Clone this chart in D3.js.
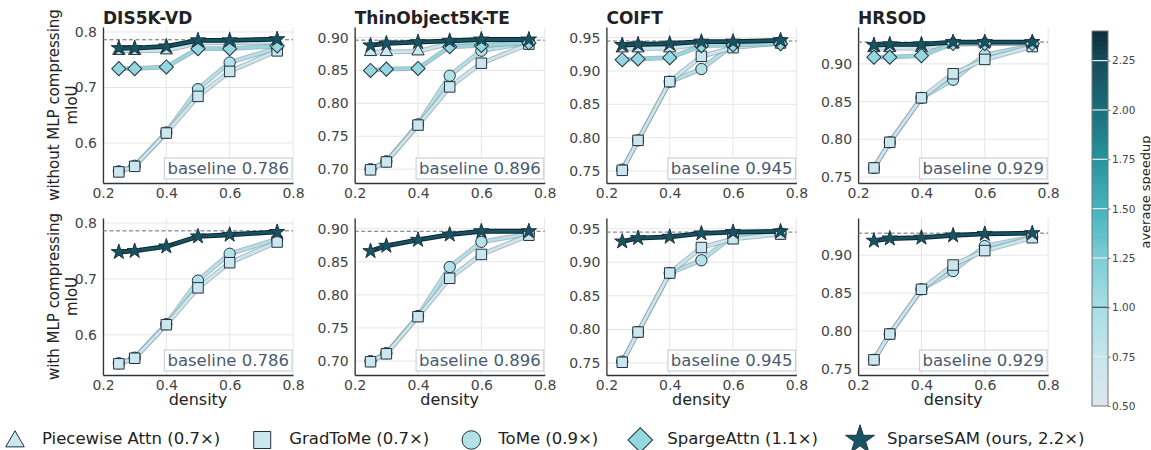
<!DOCTYPE html>
<html><head><meta charset="utf-8">
<script src="https://cdn.jsdelivr.net/npm/d3@7"></script>
<style>body{margin:0;background:#fff} svg{display:block} text{font-family:"DejaVu Sans",sans-serif}</style>
</head><body><svg id="c" width="1151" height="450"></svg>
<script>
// ---------------- data ----------------
const densities = [0.25, 0.3, 0.4, 0.5, 0.6, 0.75];
const datasets = ["DIS5K-VD", "ThinObject5K-TE", "COIFT", "HRSOD"];
const baselines = [0.786, 0.896, 0.945, 0.929];
const rowLabels = ["without MLP compressing", "with MLP compressing"];
const legendLabels = ["Piecewise Attn (0.7×)", "GradToMe (0.7×)", "ToMe (0.9×)", "SpargeAttn (1.1×)", "SparseSAM (ours, 2.2×)"];
const speedups = [0.7, 0.7, 0.9, 1.1, 2.2];
const yDomains = [[0.528, 0.809], [0.679, 0.916], [0.732, 0.966], [0.742, 0.949]];
const yTicks = [[0.6, 0.7, 0.8], [0.70, 0.75, 0.80, 0.85, 0.90], [0.75, 0.80, 0.85, 0.90, 0.95], [0.75, 0.80, 0.85, 0.90]];
const xTicks = [0.2, 0.4, 0.6, 0.8];
const cbTicks = [0.5, 0.75, 1.0, 1.25, 1.5, 1.75, 2.0, 2.25];
const cbRange = [0.5, 2.4];

// per dataset (DIS5K-VD, ThinObject5K-TE, COIFT, HRSOD)
const piecewise = [
  [0.766, 0.766, 0.767, 0.780, 0.781, 0.782],
  [0.878, 0.878, 0.879, 0.891, 0.892, 0.894],
  [0.934, 0.934, 0.934, 0.941, 0.942, 0.944],
  [0.921, 0.921, 0.921, 0.926, 0.927, 0.928]];
const gradtome = [
  [0.548, 0.558, 0.618, 0.684, 0.729, 0.766],
  [0.699, 0.711, 0.767, 0.825, 0.861, 0.890],
  [0.751, 0.796, 0.884, 0.922, 0.935, 0.942],
  [0.762, 0.796, 0.855, 0.887, 0.906, 0.923]];
const tome = [
  [0.549, 0.559, 0.619, 0.697, 0.745, 0.771],
  [0.700, 0.712, 0.768, 0.842, 0.880, 0.892],
  [0.752, 0.796, 0.884, 0.903, 0.939, 0.943],
  [0.762, 0.796, 0.855, 0.879, 0.912, 0.924]];
const sparge = [
  [0.734, 0.734, 0.737, 0.770, 0.770, 0.775],
  [0.850, 0.852, 0.853, 0.886, 0.888, 0.892],
  [0.917, 0.918, 0.920, 0.938, 0.939, 0.941],
  [0.909, 0.909, 0.911, 0.927, 0.927, 0.927]];
const sparseNoMLP = [
  [0.771, 0.771, 0.774, 0.785, 0.785, 0.787],
  [0.888, 0.891, 0.893, 0.895, 0.897, 0.897],
  [0.939, 0.940, 0.941, 0.944, 0.944, 0.946],
  [0.925, 0.926, 0.926, 0.929, 0.929, 0.929]];
const sparseMLP = [
  [0.748, 0.750, 0.758, 0.776, 0.779, 0.784],
  [0.866, 0.874, 0.883, 0.891, 0.896, 0.896],
  [0.931, 0.936, 0.938, 0.943, 0.945, 0.946],
  [0.919, 0.922, 0.923, 0.926, 0.928, 0.929]];

// ---------------- styles ----------------
const cmapStops = [0.5, 0.75, 1.0, 1.25, 1.5, 1.75, 2.0, 2.25, 2.4];
const cmapColors = ["#dde6ef", "#c6e6ec", "#a6dee5", "#7ccdd6", "#46b3bd", "#27939d", "#1c6e7b", "#164d5b", "#0e2b39"];
const cmap = d3.scaleLinear().domain(cmapStops).range(cmapColors).interpolate(d3.interpolateRgb);
const shapes = [d3.symbolTriangle, d3.symbolSquare, d3.symbolCircle, "diamond", d3.symbolStar];
const plotSizes = [66, 110, 100, 100, 72];
const legSizes = [150, 290, 270, 300, 260];

const svg = d3.select("#c");
const panelW = 190, left0 = 103, step = 251.7;
const rows = [{top: 27, h: 156}, {top: 218, h: 157}];

function symbolPath(k, size) {
  if (shapes[k] === "diamond") return d3.symbol(d3.symbolSquare, size)();
  return d3.symbol(shapes[k], size)();
}
function symbolTransform(k, x, y) {
  return shapes[k] === "diamond" ? `translate(${x},${y}) rotate(45)` : `translate(${x},${y})`;
}

rows.forEach((row, r) => {
  datasets.forEach((name, i) => {
    const left = left0 + i * step;
    const g = svg.append("g").attr("transform", `translate(${left},${row.top})`);
    const x = d3.scaleLinear().domain([0.2, 0.8]).range([0, panelW]);
    const y = d3.scaleLinear().domain(yDomains[i]).range([row.h, 0]);
    // grid
    g.selectAll(".gx").data(xTicks).join("line")
      .attr("x1", d => x(d)).attr("x2", d => x(d)).attr("y1", 0).attr("y2", row.h)
      .attr("stroke", "#e6e6e6").attr("stroke-width", 1);
    g.selectAll(".gy").data(yTicks[i]).join("line")
      .attr("x1", 0).attr("x2", panelW).attr("y1", d => y(d)).attr("y2", d => y(d))
      .attr("stroke", "#e6e6e6").attr("stroke-width", 1);
    // axes
    const fmtY = d3.format(i === 0 ? ".1f" : ".2f");
    const ya = g.append("g").call(d3.axisLeft(y).tickValues(yTicks[i]).tickFormat(fmtY).tickSize(0).tickSizeOuter(0).tickPadding(6));
    const xa = g.append("g").attr("transform", `translate(0,${row.h})`)
      .call(d3.axisBottom(x).tickValues(xTicks).tickFormat(d3.format(".1f")).tickSize(0).tickSizeOuter(0).tickPadding(5));
    [ya, xa].forEach(a => {
      a.select(".domain").attr("stroke", "#333").attr("stroke-width", 1.3);
      a.selectAll("text").attr("font-size", 14).attr("fill", "#444").attr("font-family", "DejaVu Sans");
    });
    // baseline dashed
    g.append("line").attr("x1", 0).attr("x2", panelW)
      .attr("y1", y(baselines[i])).attr("y2", y(baselines[i]))
      .attr("stroke", "#5b6b80").attr("stroke-width", 1).attr("stroke-dasharray", "4,2.5");
    // series (drawing order: ToMe, GradToMe, Piecewise, SpargeAttn, SparseSAM)
    const series = r === 0
      ? [[2, tome[i]], [1, gradtome[i]], [0, piecewise[i]], [3, sparge[i]], [4, sparseNoMLP[i]]]
      : [[2, tome[i]], [1, gradtome[i]], [4, sparseMLP[i]]];
    const line = d3.line().x((d, j) => x(densities[j])).y(d => y(d));
    series.forEach(([k, vals]) => {
      const col = cmap(speedups[k]);
      const star = k === 4;
      g.append("path").attr("d", line(vals)).attr("fill", "none")
        .attr("stroke", star ? "#0c2530" : "#8a9ba6").attr("stroke-opacity", star ? 1 : 0.7)
        .attr("stroke-width", 4.8).attr("stroke-linejoin", "round");
      g.append("path").attr("d", line(vals)).attr("fill", "none")
        .attr("stroke", col).attr("stroke-width", star ? 2.8 : 2.8).attr("stroke-linejoin", "round");
    });
    series.forEach(([k, vals]) => {
      const col = cmap(speedups[k]);
      g.selectAll(null).data(vals).join("path")
        .attr("d", symbolPath(k, plotSizes[k]))
        .attr("transform", (d, j) => symbolTransform(k, x(densities[j]), y(d)))
        .attr("fill", col).attr("stroke", "#1f3340").attr("stroke-width", 1);
    });
    // baseline box
    const boxG = g.append("g");
    const bt = boxG.append("text").attr("x", panelW - 4).attr("y", row.h - 9)
      .attr("text-anchor", "end").attr("font-size", 16.5).attr("fill", "#4b5a70")
      .text("baseline " + d3.format(".3f")(baselines[i]));
    const bb = bt.node().getBBox();
    boxG.insert("rect", "text")
      .attr("x", bb.x - 3).attr("y", bb.y - 1).attr("width", bb.width + 6).attr("height", bb.height + 2)
      .attr("fill", "#fff").attr("fill-opacity", 0.9).attr("stroke", "#c9d3df").attr("stroke-width", 1.2);
    // titles
    if (r === 0) {
      g.append("text").attr("x", 0).attr("y", -3).attr("font-size", 17).attr("font-weight", "bold")
        .attr("fill", "#222").text(name);
    } else {
      g.append("text").attr("x", panelW / 2).attr("y", row.h + 30).attr("text-anchor", "middle")
        .attr("font-size", 16).attr("fill", "#222").text("density");
    }
    if (i === 0) {
      const cy = row.top + row.h / 2;
      [[rowLabels[r], 54], ["mIoU", 72]].forEach(([t, cx]) => {
        svg.append("text").attr("transform", `translate(${cx},${cy}) rotate(-90)`)
          .attr("text-anchor", "middle").attr("dominant-baseline", "central")
          .attr("font-size", 15).attr("fill", "#222").text(t);
      });
    }
  });
});

// ---------------- colorbar ----------------
const cbX = 1092, cbW = 16, cbTop = 31, cbBot = 406;
const cbY = d3.scaleLinear().domain(cbRange).range([cbBot, cbTop]);
const grad = svg.append("defs").append("linearGradient").attr("id", "cbg")
  .attr("x1", 0).attr("y1", 1).attr("x2", 0).attr("y2", 0);
d3.range(0, 1.0001, 0.02).forEach(t => {
  const v = cbRange[0] + t * (cbRange[1] - cbRange[0]);
  grad.append("stop").attr("offset", t).attr("stop-color", cmap(v));
});
svg.append("rect").attr("x", cbX).attr("y", cbTop).attr("width", cbW).attr("height", cbBot - cbTop)
  .attr("fill", "url(#cbg)");
cbTicks.forEach(t => {
  if (t === cbRange[0]) return;
  svg.append("line").attr("x1", cbX).attr("x2", cbX + cbW).attr("y1", cbY(t)).attr("y2", cbY(t))
    .attr("stroke", t === 1.0 ? "#4a5560" : "#e8eef2").attr("stroke-width", t === 1.0 ? 1.3 : 1.2);
});
svg.append("rect").attr("x", cbX).attr("y", cbTop).attr("width", cbW).attr("height", cbBot - cbTop)
  .attr("fill", "none").attr("stroke", "#777").attr("stroke-width", 1);
const cba = svg.append("g").attr("transform", `translate(${cbX + cbW},0)`)
  .call(d3.axisRight(cbY).tickValues(cbTicks).tickFormat(d3.format(".2f")).tickSize(2.5).tickSizeOuter(0).tickPadding(1.5));
cba.select(".domain").remove();
cba.selectAll("line").attr("stroke", "#777");
cba.selectAll("text").attr("font-size", 10.5).attr("fill", "#444").attr("font-family", "DejaVu Sans");
svg.append("text").attr("transform", `translate(1145,192) rotate(-90)`)
  .attr("text-anchor", "middle").attr("dominant-baseline", "central")
  .attr("font-size", 13).attr("fill", "#222").text("average speedup");

// ---------------- legend ----------------
const legY = 440;
let lx = 15;
legendLabels.forEach((lab, k) => {
  svg.append("path").attr("d", symbolPath(k, legSizes[k]))
    .attr("transform", symbolTransform(k, lx, legY + (k === 0 ? 1.5 : 0)))
    .attr("fill", cmap(speedups[k])).attr("stroke", "#1f3340").attr("stroke-width", 1);
  const t = svg.append("text").attr("x", lx + 27).attr("y", legY + 4)
    .attr("font-size", 16.5).attr("fill", "#222").text(lab);
  lx = lx + 27 + t.node().getComputedTextLength() + 42;
});
</script></body></html>
